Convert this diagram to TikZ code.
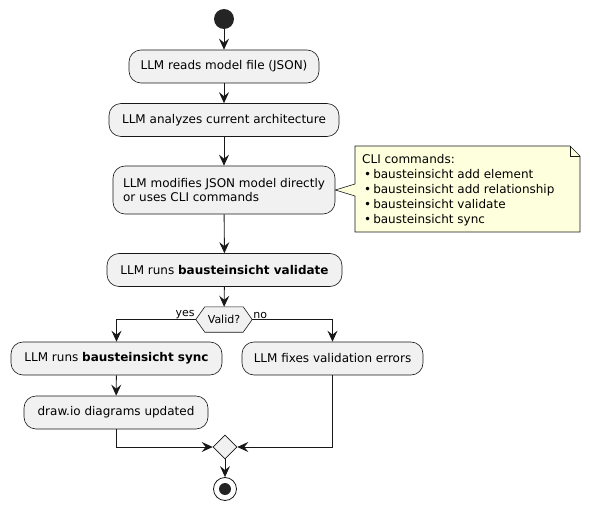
\documentclass[tikz,border=0pt]{standalone}
\usepackage{fontspec}
\setmainfont{DejaVu Sans}
\usetikzlibrary{arrows.meta,shapes.geometric}
\definecolor{boxfill}{HTML}{F1F1F1}
\definecolor{boxline}{HTML}{181818}
\definecolor{notefill}{HTML}{FEFFDD}
\tikzset{
  action/.style={rectangle, rounded corners=12pt, draw=boxline, fill=boxfill, line width=0.6pt,
    minimum height=33pt, inner sep=0pt, font=\fontsize{12}{14}\selectfont},
  flow/.style={draw=boxline, line width=0.9pt, -{Stealth[length=11pt,width=10pt,inset=4pt]}},
  branchlabel/.style={inner sep=1pt, font=\fontsize{11}{13}\selectfont},
}
\begin{document}
\begin{tikzpicture}[x=1pt, y=-1pt]
                \useasboundingbox (0,0) rectangle (590,511);
                \node[circle, fill=boxline!95!white, minimum size=20pt, inner sep=0pt] (start) at (224, 19) {};
                \node[action, minimum width=190pt] (reads)    at (224, 66.5) {LLM reads model file (JSON)};
                \node[action, minimum width=230pt] (analyze)  at (224, 120)  {LLM analyzes current architecture};
                \node[action, minimum width=222pt, minimum height=48pt, align=left, font=\fontsize{12}{13.5}\selectfont] (modify) at (224, 190) {LLM modifies JSON model directly\\or uses CLI commands};
                \node[action, minimum width=235pt] (validate) at (224.5, 270) {LLM runs \textbf{bausteinsicht validate}};
                \node[minimum width=56pt, minimum height=25pt, inner sep=0pt, font=\fontsize{11}{13}\selectfont] (valid) at (224, 319.5) {Valid?};
                \node[action, minimum width=211pt] (sync)     at (116.5, 358.5) {LLM runs \textbf{bausteinsicht sync}};
                \node[action, minimum width=181pt] (fixes)    at (332.5, 358.5) {LLM fixes validation errors};
                \node[action, minimum width=184pt] (updated)  at (116, 412.5) {draw.io diagrams updated};
                \node[diamond, draw=boxline, fill=boxfill, line width=0.6pt, minimum width=24pt, minimum height=24pt, inner sep=0pt] (merge) at (225, 447) {};
                \node[circle, draw=boxline, line width=0.8pt, fill=white, minimum size=23pt, inner sep=0pt] (stop) at (225, 489) {};
                \node[circle, fill=boxline!95!white, minimum size=12pt, inner sep=0pt] at (stop) {};

                \draw[draw=boxline, fill=boxfill, line width=0.6pt] (valid.west) -- ([xshift=9pt]valid.north west) -- ([xshift=-9pt]valid.north east) -- (valid.east) -- ([xshift=-9pt]valid.south east) -- ([xshift=9pt]valid.south west) -- cycle;
                \node[font=\fontsize{11}{13}\selectfont] at (valid) {Valid?};

                \draw[draw=boxline, fill=notefill, line width=0.6pt] (355,146) -- (570,146) -- (580,156) -- (580,232) -- (355,232) -- (355,196) -- (modify.east) -- (355,184) -- cycle;
                \draw[draw=boxline, line width=0.6pt] (570,146) -- (570,156) -- (580,156);
                \node[anchor=north west, align=left, inner sep=0pt, font=\fontsize{12}{15}\selectfont] (note) at (362, 154) {CLI commands:\\
                  \,\textbullet\,bausteinsicht add element\\
                  \,\textbullet\,bausteinsicht add relationship\\
                  \,\textbullet\,bausteinsicht validate\\
                  \,\textbullet\,bausteinsicht sync};

                \draw[flow] (start) -- (reads);
                \draw[flow] (reads) -- (analyze);
                \draw[flow] (analyze) -- (modify);
                \draw[flow] (modify) -- (validate);
                \draw[flow] (validate) -- (valid);
                \draw[flow] (valid.west) -| (sync.north);
                \draw[flow] (valid.east) -| (fixes.north);
                \draw[flow] (sync) -- (updated);
                \draw[flow] (updated.south) |- (merge.west);
                \draw[flow] (fixes.south) |- (merge.east);
                \draw[flow] (merge) -- (stop);

                \node[branchlabel, anchor=south east] (yes) at (valid.west) {yes};
                \node[branchlabel, anchor=south west] (no)  at (valid.east) {no};
            \end{tikzpicture}
\end{document}
